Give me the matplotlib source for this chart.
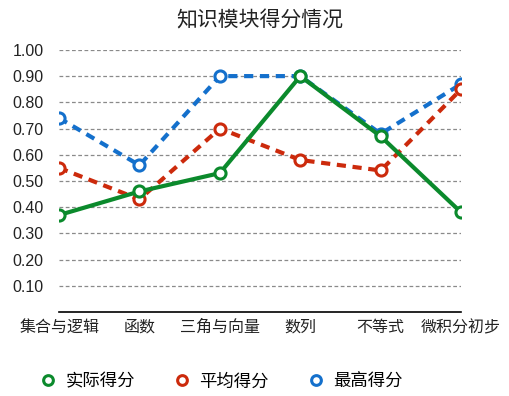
import matplotlib

matplotlib.use("Agg")
import matplotlib.pyplot as plt
from matplotlib.lines import Line2D

plt.rcParams["font.family"] = ["Noto Sans CJK SC", "DejaVu Sans"]

categories = ["集合与逻辑", "函数", "三角与向量", "数列", "不等式", "微积分初步"]
actual = [0.37, 0.46, 0.53, 0.90, 0.67, 0.38]
average = [0.55, 0.43, 0.70, 0.58, 0.54, 0.85]
highest = [0.74, 0.56, 0.90, 0.90, 0.68, 0.87]
yticks = [0.1, 0.2, 0.3, 0.4, 0.5, 0.6, 0.7, 0.8, 0.9, 1.0]

GREEN = "#0b8a2c"
RED = "#cc2a0c"
BLUE = "#1470cc"

fig = plt.figure(figsize=(5.09, 3.96), dpi=100)
ax = fig.add_axes([0.116, 0.212, 0.790, 0.662])

x = range(len(categories))
ax.plot(x, highest, color=BLUE, linewidth=3, linestyle=(0, (2.2, 1.6)),
        marker="o", markersize=8, markerfacecolor="white", markeredgewidth=2.2, zorder=2)
ax.plot(x, average, color=RED, linewidth=3, linestyle=(0, (2.2, 1.6)),
        marker="o", markersize=8, markerfacecolor="white", markeredgewidth=2.2, zorder=3)
ax.plot(x, actual, color=GREEN, linewidth=3, linestyle="-",
        marker="o", markersize=8, markerfacecolor="white", markeredgewidth=2.2, zorder=4)

ax.set_xlim(0, len(categories) - 1)
ax.set_ylim(0, 1.0)
ax.set_yticks(yticks)
ax.set_yticklabels([f"{v:.2f}" for v in yticks], fontsize=11.5, color="#222222",
                   family=["Liberation Sans", "DejaVu Sans"])
ax.set_xticks(list(x))
ax.set_xticklabels(categories, fontsize=11.5, color="#222222")
ax.tick_params(axis="y", length=0, pad=11)
ax.tick_params(axis="x", length=0, pad=5)

for v in yticks:
    ax.axhline(v, color="#8a8a8a", linewidth=0.9, linestyle=(0, (3, 2)), zorder=1)
for side in ["left", "right", "top"]:
    ax.spines[side].set_visible(False)
ax.spines["bottom"].set_color("black")
ax.spines["bottom"].set_linewidth(1.2)
ax.spines["bottom"].set_zorder(5)

fig.text(0.511, 0.949, "知识模块得分情况", fontsize=15, color="#222222",
         ha="center", va="center")

handles = [
    Line2D([], [], linestyle="none", marker="o", markersize=7, markerfacecolor="white",
           markeredgecolor=c, markeredgewidth=2.2, label=lab)
    for c, lab in [(GREEN, "实际得分"), (RED, "平均得分"), (BLUE, "最高得分")]
]
fig.legend(handles=handles, loc="center left", bbox_to_anchor=(0.047, 0.037), ncol=3,
           frameon=False, fontsize=12.5, handletextpad=0.5, columnspacing=2.2,
           handlelength=1.0)

fig.savefig("out.png", dpi=100)
